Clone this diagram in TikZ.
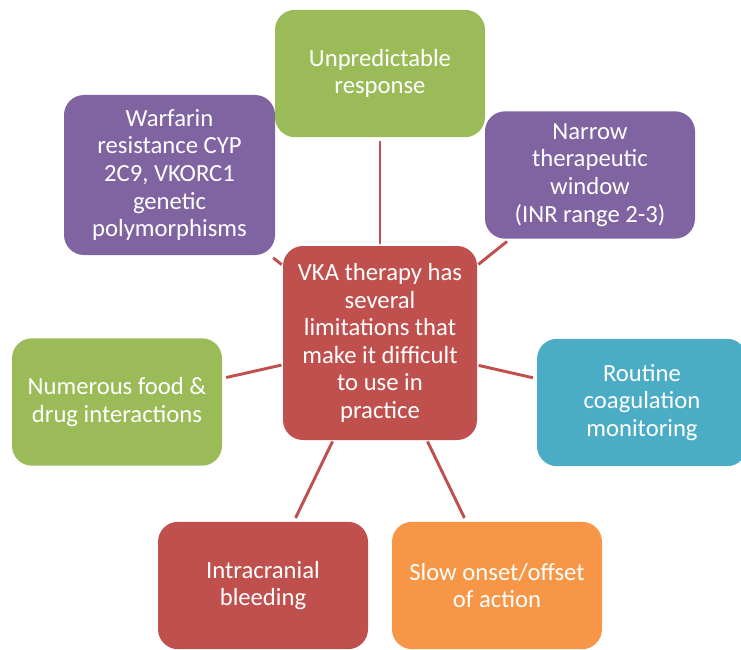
\documentclass[tikz,border=0pt]{standalone}
\usepackage{fontspec}
\setmainfont{Carlito}
\usetikzlibrary{calc}

\definecolor{limgreen}{HTML}{9BBB59}
\definecolor{limpurple}{HTML}{8064A2}
\definecolor{limred}{HTML}{C0504D}
\definecolor{limblue}{HTML}{4BACC6}
\definecolor{limorange}{HTML}{F79646}

\begin{document}
\begin{tikzpicture}[x=0.75pt,y=-0.75pt,
  limit/.style={rectangle, rounded corners=15pt, text=white, align=center,
    inner sep=0pt, minimum width=157.5pt, minimum height=95.5pt,
    font=\fontsize{18.5}{20.7}\selectfont},
  spoke/.style={draw=limred, line width=2.2pt, shorten <=1pt, shorten >=3pt}]

\clip (0,0) rectangle (741,649); % picture frame, cuts the blue box

\coordinate (Hub)      at (380,343);
\coordinate (Top)      at (380,73.5);
\coordinate (UpLeft)   at (169.5,175);
\coordinate (UpRight)  at (590,175);
\coordinate (MidLeft)  at (117,402);
\coordinate (MidRight) at (642,402.5);
\coordinate (LowLeft)  at (263,585.5);
\coordinate (LowRight) at (497,585.5);

\node[limit, fill=limred, minimum width=145.5pt, minimum height=145.5pt] (vka) at (Hub)
  {VKA therapy has\\several\\limitations that\\make it difficult\\to use in\\practice};

\node[limit, fill=limgreen] (unpredictable) at (Top) {Unpredictable\\response};
\node[limit, fill=limpurple, minimum width=158.25pt, minimum height=120pt] (warfarin) at (UpLeft)
  {Warfarin\\resistance CYP\\2C9, VKORC1\\genetic\\polymorphisms};
\node[limit, fill=limpurple] (narrow) at (UpRight)
  {Narrow\\therapeutic\\window\\(INR range 2-3)};
\node[limit, fill=limgreen] (food) at (MidLeft) {Numerous food \&\\drug interactions};
\node[limit, fill=limblue] (routine) at (MidRight) {Routine\\coagulation\\monitoring};
\node[limit, fill=limred] (bleeding) at (LowLeft) {Intracranial\\bleeding};
\node[limit, fill=limorange] (slow) at (LowRight) {Slow onset/offset\\of action};

% spokes from the hub
\foreach \leaf in {unpredictable,warfarin,narrow,food,routine,bleeding,slow}{
  \draw[spoke] (vka) -- (\leaf);
}

\end{tikzpicture}
\end{document}
